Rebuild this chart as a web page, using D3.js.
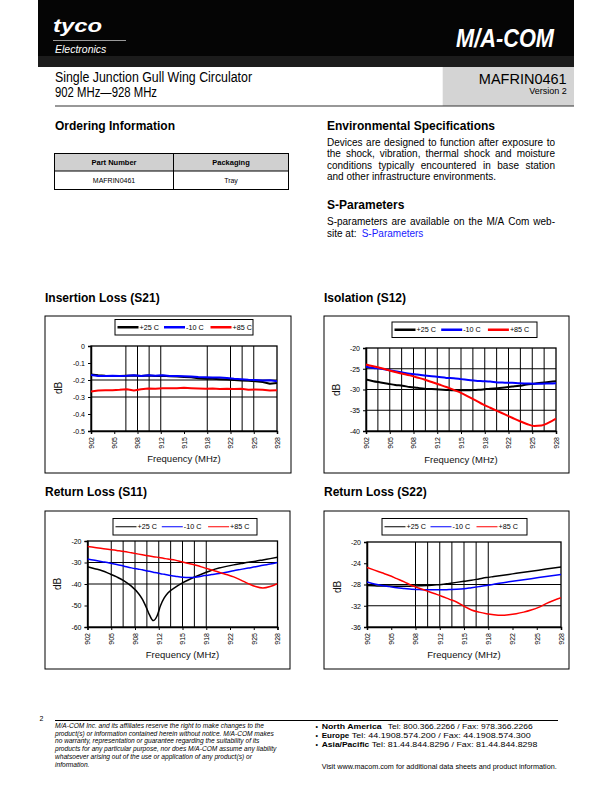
<!DOCTYPE html>
<html><head><meta charset="utf-8">
<script src="https://cdn.jsdelivr.net/npm/d3@7/dist/d3.min.js"></script>
<style>
body{margin:0;background:#fff}
svg{display:block}
text{font-family:"Liberation Sans",Arial,Helvetica,sans-serif}
</style>
</head><body>
<svg id="page" width="612" height="792"></svg>
<script>
// ---------------- DATA ----------------
const seriesNames = ["+25 C", "-10 C", "+85 C"];
const seriesColors = ["#000000", "#0000ff", "#ff0000"];
const freqTickValues = [902, 905.25, 908.5, 911.75, 915, 918.25, 921.5, 924.75, 928];
const freqTickLabels = ["902", "905", "908", "912", "915", "918", "922", "925", "928"];

// Insertion Loss (S21)
const s21Freq = [902,903,904,905,906,907,908,909,910,911,912,913,914,915,916,917,918,919,920,921,922,923,924,925,926,927,928];
const s21P25 = [-0.168,-0.172,-0.175,-0.176,-0.176,-0.175,-0.174,-0.176,-0.174,-0.176,-0.175,-0.178,-0.180,-0.182,-0.184,-0.190,-0.192,-0.193,-0.195,-0.197,-0.200,-0.203,-0.205,-0.208,-0.212,-0.222,-0.218];
const s21M10 = [-0.170,-0.176,-0.176,-0.175,-0.177,-0.175,-0.172,-0.176,-0.172,-0.175,-0.172,-0.176,-0.176,-0.178,-0.180,-0.183,-0.184,-0.185,-0.186,-0.188,-0.193,-0.195,-0.198,-0.200,-0.203,-0.202,-0.208];
const s21P85 = [-0.268,-0.262,-0.260,-0.260,-0.258,-0.255,-0.262,-0.255,-0.250,-0.252,-0.248,-0.248,-0.248,-0.246,-0.248,-0.250,-0.252,-0.250,-0.253,-0.252,-0.253,-0.252,-0.258,-0.256,-0.258,-0.262,-0.260];
const s21YTicks = [0, -0.1, -0.2, -0.3, -0.4, -0.5];
const s21YLabels = ["0", "-0.1", "-0.2", "-0.3", "-0.4", "-0.5"];

// Isolation (S12)
const s12Freq = [902,903,904,905,906,907,908,909,910,911,912,913,914,915,916,917,918,919,920,921,922,923,924,925,926,927,928];
const s12P25 = [-27.6,-28.0,-28.3,-28.6,-28.9,-29.1,-29.4,-29.6,-29.8,-29.9,-30.0,-30.1,-30.2,-30.2,-30.2,-30.1,-30.0,-29.8,-29.7,-29.5,-29.3,-29.1,-28.8,-28.6,-28.4,-28.2,-28.0];
const s12M10 = [-24.5,-24.8,-25.0,-25.3,-25.6,-25.9,-26.2,-26.4,-26.6,-26.8,-27.0,-27.2,-27.3,-27.5,-27.7,-27.9,-28.0,-28.1,-28.3,-28.35,-28.4,-28.5,-28.55,-28.6,-28.6,-28.55,-28.5];
const s12P85 = [-24.0,-24.4,-24.8,-25.3,-25.8,-26.2,-26.6,-27.1,-27.6,-28.2,-28.8,-29.4,-30.1,-30.8,-31.7,-32.6,-33.6,-34.4,-35.2,-36.0,-36.8,-37.6,-38.3,-38.8,-38.7,-38.0,-37.0];
const s12YTicks = [-20, -25, -30, -35, -40];
const s12YLabels = ["-20", "-25", "-30", "-35", "-40"];

// Return Loss (S11)
const s11Freq = [902,903,904,905,906,907,908,909,909.5,910,910.5,911,911.5,912,912.5,913,914,915,916,917,918,919,920,921,922,923,924,925,926,927,928];
const s11P25 = [-32.0,-32.9,-33.8,-35.2,-36.7,-38.5,-41.0,-44.5,-47.0,-50.5,-54.5,-57.0,-55.0,-50.0,-46.5,-44.2,-41.6,-39.5,-37.8,-36.3,-34.9,-33.6,-32.6,-31.8,-31.1,-30.5,-29.9,-29.4,-28.8,-28.2,-27.6];
const s11M10 = [-28.4,-29.0,-29.6,-30.2,-30.9,-31.7,-32.5,-33.1,-33.4,-33.8,-34.1,-34.5,-34.8,-35.2,-35.5,-35.8,-36.4,-36.9,-37.0,-36.7,-36.1,-35.6,-35.1,-34.5,-33.8,-33.2,-32.6,-32.0,-31.3,-30.7,-30.0];
const s11P85 = [-22.6,-23.0,-23.5,-23.9,-24.4,-24.9,-25.5,-26.1,-26.4,-26.7,-27.0,-27.3,-27.5,-27.8,-28.1,-28.4,-28.9,-29.8,-30.6,-31.4,-32.5,-33.5,-34.5,-35.6,-36.7,-38.2,-39.8,-41.2,-41.9,-41.2,-39.8];
const s11YTicks = [-20, -30, -40, -50, -60];
const s11YLabels = ["-20", "-30", "-40", "-50", "-60"];

// Return Loss (S22)
const s22Freq = [902,903,904,905,906,907,908,909,910,911,912,913,914,915,916,917,918,919,920,921,922,923,924,925,926,927,928];
const s22P25 = [-28.2,-28.25,-28.3,-28.3,-28.35,-28.35,-28.3,-28.25,-28.2,-28.1,-28.0,-27.8,-27.6,-27.4,-27.2,-26.95,-26.7,-26.5,-26.3,-26.1,-25.9,-25.7,-25.5,-25.3,-25.1,-24.9,-24.7];
const s22M10 = [-27.5,-27.9,-28.2,-28.4,-28.6,-28.75,-28.9,-28.95,-29.0,-29.0,-29.0,-28.95,-28.9,-28.8,-28.6,-28.4,-28.2,-27.95,-27.7,-27.5,-27.3,-27.1,-26.9,-26.7,-26.5,-26.3,-26.1];
const s22P85 = [-24.8,-25.3,-25.8,-26.3,-26.9,-27.5,-28.2,-28.7,-29.2,-29.7,-30.2,-30.75,-31.3,-32.1,-32.8,-33.2,-33.5,-33.7,-33.8,-33.7,-33.5,-33.2,-32.8,-32.3,-31.6,-31.0,-30.5];
const s22YTicks = [-20, -24, -28, -32, -36];
const s22YLabels = ["-20", "-24", "-28", "-32", "-36"];

// ---------------- PAGE ----------------
const svg = d3.select("#page");
const FONT = '"Liberation Sans",Arial,Helvetica,sans-serif';
const NARROW = '"Liberation Sans Narrow","Arial Narrow","Liberation Sans",Arial,sans-serif';

// Header black band
svg.append("rect").attr("x", 38).attr("y", 0).attr("width", 536).attr("height", 67).attr("fill", "#050505");
svg.append("rect").attr("x", 38).attr("y", 56).attr("width", 536).attr("height", 11).attr("fill", "#1c1c1c");
svg.append("text").attr("x", 53).attr("y", 32).attr("fill", "#fff")
  .style("font-size", "19px").style("font-weight", "bold").style("font-style", "italic")
  .attr("textLength", 49).attr("lengthAdjust", "spacingAndGlyphs").text("tyco");
svg.append("line").attr("x1", 53).attr("x2", 126).attr("y1", 40.5).attr("y2", 40.5).attr("stroke", "#fff").attr("stroke-width", 0.6);
svg.append("text").attr("x", 55).attr("y", 52.5).attr("fill", "#fff")
  .style("font-size", "10.5px").style("font-style", "italic").text("Electronics");
svg.append("text").attr("x", 456).attr("y", 47).attr("fill", "#fff")
  .style("font-size", "26px").style("font-weight", "bold").style("font-style", "italic")
  .attr("textLength", 98).attr("lengthAdjust", "spacingAndGlyphs").text("M/A-COM");

// Title row
svg.append("rect").attr("x", 442.7).attr("y", 67).attr("width", 131.3).attr("height", 39).attr("fill", "#d4d4d4");
svg.append("text").attr("x", 55).attr("y", 82).style("font-family", NARROW).style("font-size", "14px")
  .attr("textLength", 197).attr("lengthAdjust", "spacingAndGlyphs").text("Single Junction Gull Wing Circulator");
svg.append("text").attr("x", 55).attr("y", 97).style("font-family", NARROW).style("font-size", "14px")
  .attr("textLength", 102).attr("lengthAdjust", "spacingAndGlyphs").text("902 MHz\u2014928 MHz");
svg.append("text").attr("x", 566.7).attr("y", 83.5).attr("text-anchor", "end").style("font-family", NARROW).style("font-size", "14.5px")
  .text("MAFRIN0461");
svg.append("text").attr("x", 566.7).attr("y", 93.5).attr("text-anchor", "end").style("font-family", NARROW).style("font-size", "9px")
  .text("Version 2");
svg.append("line").attr("x1", 55).attr("x2", 574).attr("y1", 106).attr("y2", 106).attr("stroke", "#333").attr("stroke-width", 1.2);

// Ordering information
svg.append("text").attr("x", 55).attr("y", 130).style("font-size", "12px").style("font-weight", "bold").text("Ordering Information");
const tbl = svg.append("g");
tbl.append("rect").attr("x", 54.5).attr("y", 153.5).attr("width", 234).attr("height", 17.5).attr("fill", "#d0d0d0");
tbl.append("rect").attr("x", 54.5).attr("y", 153.5).attr("width", 234).attr("height", 36).attr("fill", "none").attr("stroke", "#000").attr("stroke-width", 1);
tbl.append("line").attr("x1", 54.5).attr("x2", 288.5).attr("y1", 171).attr("y2", 171).attr("stroke", "#000");
tbl.append("line").attr("x1", 173.5).attr("x2", 173.5).attr("y1", 153.5).attr("y2", 189.5).attr("stroke", "#000");
tbl.append("text").attr("x", 114).attr("y", 165).attr("text-anchor", "middle").style("font-size", "7.5px").style("font-weight", "bold").text("Part Number");
tbl.append("text").attr("x", 231).attr("y", 165).attr("text-anchor", "middle").style("font-size", "7.5px").style("font-weight", "bold").text("Packaging");
tbl.append("text").attr("x", 114).attr("y", 183).attr("text-anchor", "middle").style("font-size", "7px").text("MAFRIN0461");
tbl.append("text").attr("x", 231).attr("y", 183).attr("text-anchor", "middle").style("font-size", "7px").text("Tray");

// justified text helper
function justify(parent, str, x, y, width, size, doJustify) {
  const words = str.split(" ");
  const t = parent.append("text").attr("y", y).style("font-size", size + "px");
  const spans = words.map(w => t.append("tspan").text(w));
  const widths = spans.map(s => s.node().getComputedTextLength());
  const total = d3.sum(widths);
  const spaceW = size * 0.278;
  const gap = doJustify && words.length > 1 ? (width - total) / (words.length - 1) : spaceW;
  let cx = x;
  spans.forEach((s, i) => { s.attr("x", cx); cx += widths[i] + gap; });
  return t;
}

svg.append("text").attr("x", 327).attr("y", 129.5).style("font-size", "12px").style("font-weight", "bold").text("Environmental Specifications");
const envLines = [
  "Devices are designed to function after exposure to",
  "the shock, vibration, thermal shock and moisture",
  "conditions typically encountered in base station",
  "and other infrastructure environments."
];
envLines.forEach((l, i) => justify(svg, l, 327, 146 + i * 11.3, 228, 10, i < 3));
svg.append("text").attr("x", 327).attr("y", 208.5).style("font-size", "12px").style("font-weight", "bold").text("S-Parameters");
justify(svg, "S-parameters are available on the M/A Com web-", 327, 225, 228, 10, true);
const l2 = svg.append("text").attr("x", 327).attr("y", 236.5).style("font-size", "10px");
l2.append("tspan").text("site at:");
l2.append("tspan").attr("x", 361.7).attr("fill", "#1a1aff").text("S-Parameters");

// ---------------- CHARTS ----------------
function drawChart(cfg) {
  const g = svg.append("g");
  const [bx0, by0, bx1, by1] = cfg.box;
  const [pl, pt, pr, pb] = cfg.plot;
  g.append("text").attr("x", bx0).attr("y", cfg.titleY).style("font-size", "12px").style("font-weight", "bold").text(cfg.title);
  g.append("rect").attr("x", bx0).attr("y", by0).attr("width", bx1 - bx0).attr("height", by1 - by0)
    .attr("fill", "#fff").attr("stroke", "#000").attr("stroke-width", 1);

  const x = d3.scaleLinear().domain([902, 928]).range([pl, pr]);
  const y = d3.scaleLinear().domain(cfg.yDomain).range([pb, pt]);

  // gridlines
  g.append("g").selectAll("line").data(cfg.hGrid).join("line")
    .attr("x1", pl).attr("x2", pr).attr("y1", d => y(d)).attr("y2", d => y(d))
    .attr("stroke", "#000").attr("stroke-width", 1);
  g.append("g").selectAll("line").data(cfg.vGridIdx).join("line")
    .attr("x1", d => x(902 + 3.25 * d)).attr("x2", d => x(902 + 3.25 * d)).attr("y1", pt).attr("y2", pb)
    .attr("stroke", "#000").attr("stroke-width", 1);
  g.append("rect").attr("x", pl).attr("y", pt).attr("width", pr - pl).attr("height", pb - pt)
    .attr("fill", "none").attr("stroke", "#000").attr("stroke-width", 1.3);

  // axes
  const ya = g.append("g").attr("transform", `translate(${pl},0)`)
    .call(d3.axisLeft(y).tickValues(cfg.yTicks).tickSize(3).tickPadding(3)
      .tickFormat((d, i) => cfg.yLabels[i]));
  ya.select(".domain").attr("stroke-width", 1.5);
  ya.selectAll("text").style("font-family", FONT).style("font-size", "7px").attr("fill", "#000");
  const xa = g.append("g").attr("transform", `translate(0,${pb})`)
    .call(d3.axisBottom(x).tickValues(freqTickValues).tickSize(3)
      .tickFormat((d, i) => freqTickLabels[i]));
  xa.select(".domain").attr("stroke-width", 1.5);
  xa.selectAll("text").style("font-family", FONT).style("font-size", "7px").attr("fill", "#000")
    .attr("transform", "rotate(-90)").attr("x", -6).attr("y", 0).attr("dy", "0.35em").attr("text-anchor", "end");

  g.append("text").attr("x", (pl + pr) / 2).attr("y", cfg.freqY).attr("text-anchor", "middle")
    .style("font-size", "9.5px").attr("fill", "#111").text("Frequency (MHz)");
  g.append("text").attr("transform", `translate(${cfg.dbPos[0]},${cfg.dbPos[1]}) rotate(-90)`)
    .attr("text-anchor", "middle").attr("dy", "0.35em").style("font-size", "10px").attr("fill", "#111").text("dB");

  // series
  const line = d3.line().x((d, i) => x(cfg.freq[i])).y(d => y(d)).curve(cfg.curve || d3.curveLinear);
  const clipId = "clip" + cfg.id;
  g.append("clipPath").attr("id", clipId).append("rect").attr("x", pl).attr("y", pt - 2).attr("width", pr - pl).attr("height", pb - pt + 4);
  const sg = g.append("g").attr("clip-path", `url(#${clipId})`);
  cfg.series.forEach((s, k) => {
    sg.append("path").attr("d", line(s)).attr("fill", "none")
      .attr("stroke", seriesColors[k]).attr("stroke-width", cfg.lw).attr("stroke-linejoin", "round");
  });

  // legend
  const [lx0, ly0, lx1, ly1] = cfg.legend;
  const lg = g.append("g");
  lg.append("rect").attr("x", lx0).attr("y", ly0).attr("width", lx1 - lx0).attr("height", ly1 - ly0)
    .attr("fill", "#fff").attr("stroke", "#000").attr("stroke-width", 1);
  const cy = (ly0 + ly1) / 2;
  seriesNames.forEach((n, k) => {
    const sx = lx0 + 2.5 + k * cfg.legStep;
    lg.append("line").attr("x1", sx).attr("x2", sx + 21).attr("y1", cy).attr("y2", cy)
      .attr("stroke", seriesColors[k]).attr("stroke-width", cfg.legLw);
    lg.append("text").attr("x", sx + 22).attr("y", cy).attr("dy", "0.35em").style("font-size", "7.2px").text(n);
  });
}

drawChart({
  id: 1, title: "Insertion Loss (S21)", titleY: 302,
  box: [45, 316, 291, 473], plot: [91, 346, 277, 431],
  yDomain: [-0.5, 0], yTicks: s21YTicks, yLabels: s21YLabels,
  hGrid: [-0.2, -0.3], vGridIdx: [1.5, 2, 2.5, 3, 5, 6, 6.5, 7],
  freq: s21Freq, series: [s21P25, s21M10, s21P85], lw: 2,
  legend: [115, 319.5, 253, 335], legStep: 46.5, legLw: 2.5,
  freqY: 462, dbPos: [58, 388]
});
drawChart({
  id: 2, title: "Isolation (S12)", titleY: 302,
  box: [324, 316, 569, 473], plot: [366, 348, 556, 431],
  yDomain: [-40, -20], yTicks: s12YTicks, yLabels: s12YLabels,
  hGrid: [-25, -30, -35], vGridIdx: [0.5, 1, 1.5, 2, 2.5, 3, 3.5, 4, 4.5, 5, 5.5, 6, 6.5, 7, 7.5],
  freq: s12Freq, series: [s12P25, s12M10, s12P85], lw: 2, curve: d3.curveMonotoneX,
  legend: [392, 322, 537, 337.5], legStep: 46.7, legLw: 2.5,
  freqY: 463, dbPos: [336, 390]
});
drawChart({
  id: 3, title: "Return Loss (S11)", titleY: 496,
  box: [45, 511, 290, 669], plot: [87.5, 541, 277.5, 627],
  yDomain: [-60, -20], yTicks: s11YTicks, yLabels: s11YLabels,
  hGrid: [-30, -40], vGridIdx: [1, 1.5, 2, 2.5, 3, 3.5, 4, 4.5, 5],
  freq: s11Freq, series: [s11P25, s11M10, s11P85], lw: 1.5, curve: d3.curveMonotoneX,
  legend: [113, 518.5, 257, 535], legStep: 46.3, legLw: 1,
  freqY: 658, dbPos: [57, 584]
});
drawChart({
  id: 4, title: "Return Loss (S22)", titleY: 496,
  box: [324, 511, 569, 669], plot: [367, 542, 561, 627],
  yDomain: [-36, -20], yTicks: s22YTicks, yLabels: s22YLabels,
  hGrid: [-28, -32], vGridIdx: [2, 2.5, 3, 3.5, 4, 4.5, 5],
  freq: s22Freq, series: [s22P25, s22M10, s22P85], lw: 1.5, curve: d3.curveMonotoneX,
  legend: [382, 518.5, 527, 535], legStep: 46, legLw: 1,
  freqY: 658, dbPos: [337, 587]
});

// ---------------- FOOTER ----------------
svg.append("text").attr("x", 39.5).attr("y", 721).style("font-size", "7px").text("2");
svg.append("line").attr("x1", 55).attr("x2", 558).attr("y1", 720.5).attr("y2", 720.5).attr("stroke", "#000").attr("stroke-width", 1);
const disc = [
  "M/A-COM Inc. and its affiliates reserve the right to make changes to the",
  "product(s) or information contained herein without notice. M/A-COM makes",
  "no warranty, representation or guarantee regarding the suitability of its",
  "products for any particular purpose, nor does M/A-COM assume any liability",
  "whatsoever arising out of the use or application of any product(s) or",
  "information."
];
disc.forEach((l, i) => svg.append("text").attr("x", 55).attr("y", 728 + i * 7.7).style("font-size", "6.6px").style("font-style", "italic").text(l));

const contacts = [
  ["North America", 60, "Tel: 800.366.2266 / Fax: 978.366.2266", 729, 387.7, 145],
  ["Europe", 27.6, "Tel: 44.1908.574.200 / Fax: 44.1908.574.300", 738, 351.7, 179],
  ["Asia/Pacific", 47.6, "Tel: 81.44.844.8296 / Fax: 81.44.844.8298", 747, 371.7, 165.6]
];
contacts.forEach(c => {
  svg.append("text").attr("x", 315.5).attr("y", c[3]).style("font-size", "7px").text("\u2022");
  svg.append("text").attr("x", 321.7).attr("y", c[3]).style("font-size", "7.6px").style("font-weight", "bold")
    .attr("textLength", c[1]).attr("lengthAdjust", "spacingAndGlyphs").text(c[0]);
  svg.append("text").attr("x", c[4]).attr("y", c[3]).style("font-size", "6.8px")
    .attr("textLength", c[5]).attr("lengthAdjust", "spacingAndGlyphs").text(c[2]);
});
svg.append("text").attr("x", 321.7).attr("y", 768.5).style("font-size", "7px")
  .attr("textLength", 235).attr("lengthAdjust", "spacingAndGlyphs")
  .text("Visit www.macom.com for additional data sheets and product information.");
</script>
</body></html>
